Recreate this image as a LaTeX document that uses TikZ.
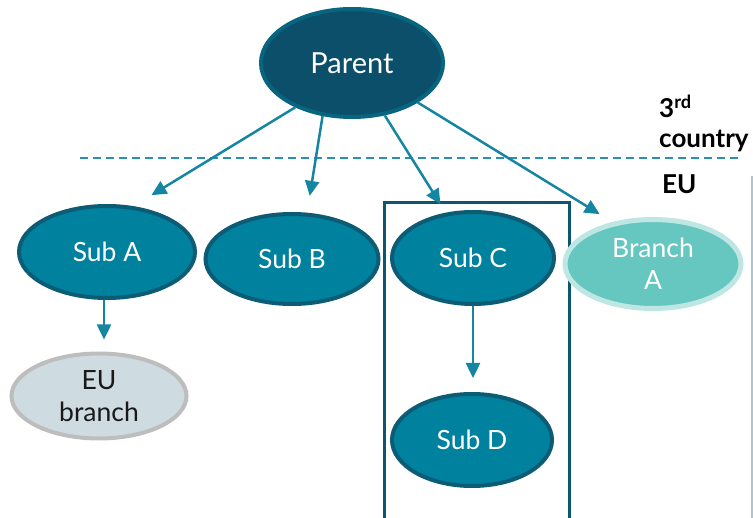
\documentclass[tikz,border=0pt]{standalone}
\usepackage{fontspec}
\setmainfont{Lato}
\usetikzlibrary{shapes.geometric,arrows.meta}

\definecolor{parentfill}{HTML}{0B4F6A}
\definecolor{parentrim}{HTML}{07657F}
\definecolor{subfill}{HTML}{00829F}
\definecolor{subrim}{HTML}{0B5C74}
\definecolor{branchfill}{HTML}{66C6C0}
\definecolor{branchrim}{HTML}{BEE6E3}
\definecolor{eufill}{HTML}{CEDBE0}
\definecolor{eurim}{HTML}{BDBDBD}
\definecolor{arrowteal}{HTML}{1586A2}
\definecolor{dashteal}{HTML}{2A90B0}
\definecolor{frameteal}{HTML}{0E5670}
\definecolor{edgegrey}{HTML}{AFC4CC}

\tikzset{
  oval/.style={ellipse, inner sep=0pt, align=center, font=\fontsize{26.5}{32}\selectfont},
  parentnode/.style={oval, fill=parentfill, draw=parentrim, line width=4pt, text=white,
    font=\fontsize{29}{34}\selectfont},
  subnode/.style={oval, fill=subfill, draw=subrim, line width=4pt, text=white},
  branchnode/.style={oval, fill=branchfill, draw=branchrim, line width=5pt, text=white},
  eunode/.style={oval, fill=eufill, draw=eurim, line width=4pt, text=black!90},
  groupbox/.style={draw=frameteal, line width=3pt, inner sep=0pt},
  arr/.style={draw=arrowteal, line width=2.5pt, -{Triangle[length=15pt,width=14pt]}},
  region/.style={font=\bfseries\fontsize{26}{30}\selectfont, text=black, anchor=west, inner sep=0pt},
}

\begin{document}
\begin{tikzpicture}[x=1pt,y=-1pt]
  \useasboundingbox (0,0) rectangle (753,518);

  % border between third country and EU
  \draw[dashteal, line width=2pt, dash pattern=on 8pt off 5pt] (80,158) -- (742,158);
  \draw[edgegrey, line width=1.5pt] (752,176) -- (752,520);

  % frame around Sub C and Sub D
  \node[groupbox, minimum width=185pt, minimum height=320pt] (group) at (476.5,363) {};

  % entities
  \node[parentnode, minimum width=182pt, minimum height=108pt] (parent) at (352,63) {Parent};
  \node[subnode, minimum width=176pt, minimum height=92pt] (subA) at (107,252) {Sub A};
  \node[subnode, minimum width=173pt, minimum height=90pt] (subB) at (292,259) {Sub B};
  \node[subnode, minimum width=162pt, minimum height=92pt] (subC) at (473,258) {Sub C};
  \node[subnode, minimum width=160pt, minimum height=92pt] (subD) at (472,440) {Sub D};
  \node[branchnode, minimum width=176pt, minimum height=89pt] (branchA) at (653,264) {Branch\\A};
  \node[eunode, minimum width=175pt, minimum height=85pt] (eubranch) at (99,396) {EU\\branch};

  % region labels
  \node[region] (third) at (659,106) {3\textsuperscript{rd}};
  \node[region] (country) at (659,141) {country};
  \node[region] (eu) at (662,184) {EU};

  % ownership arrows
  \draw[arr, shorten >=21pt] (parent.218) -- (subA.60);
  \draw[arr, shorten >=17pt] (parent.241) -- (subB.72);
  \draw[arr, shorten >=10pt] (parent.302) -- (subC.121);
  \draw[arr, shorten >=15pt] (parent.329) -- (branchA.134);
  \draw[arr, shorten >=12pt] ([xshift=-3pt]subA.south) -- ([xshift=-3pt]subA.south |- eubranch.north);
  \draw[arr, shorten >=14pt] (subC.south) -- (subC.south |- subD.north);
\end{tikzpicture}
\end{document}
